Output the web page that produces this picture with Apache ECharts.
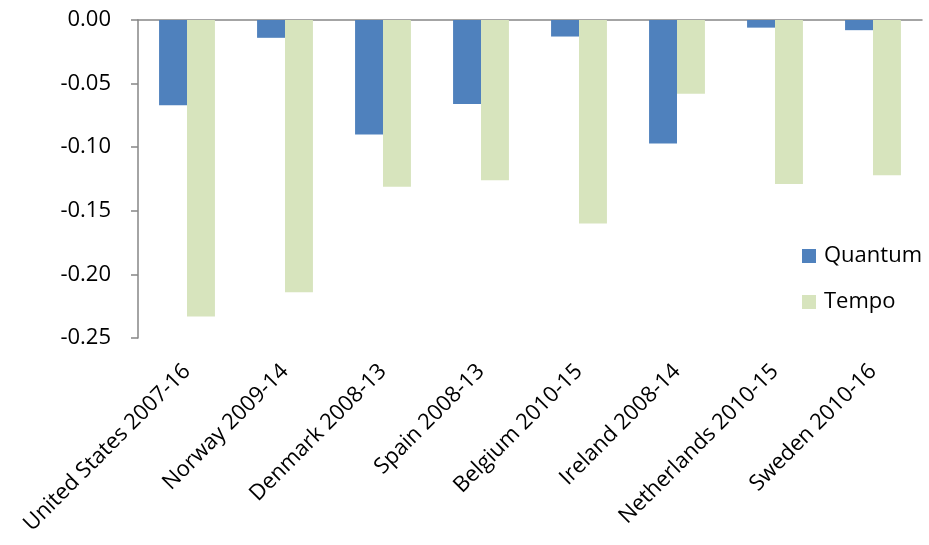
<!DOCTYPE html>
<html>
<head>
<meta charset="utf-8"/>
<script src="https://cdn.jsdelivr.net/npm/echarts@6/dist/echarts.min.js"></script>
</head>
<body style="margin:0;background:#fff;">
<div id="chart" style="width:929px;height:545px;"></div>
<script type="text/javascript">
var categories = ['United States 2007-16', 'Norway 2009-14', 'Denmark 2008-13', 'Spain 2008-13',
    'Belgium 2010-15', 'Ireland 2008-14', 'Netherlands 2010-15', 'Sweden 2010-16'];
var quantum = [-0.067, -0.014, -0.090, -0.066, -0.013, -0.097, -0.006, -0.008];
var tempo = [-0.233, -0.214, -0.131, -0.126, -0.160, -0.058, -0.129, -0.122];
var yTicks = ['0.00', '-0.05', '-0.10', '-0.15', '-0.20', '-0.25'];

var font = 'Open Sans';
var chart = echarts.init(document.getElementById('chart'));
var option = {
    animation: false,
    textStyle: { fontFamily: font },
    grid: { left: 138, right: 7, top: 20, bottom: 207 },
    legend: {
        orient: 'vertical',
        left: 802, top: 245,
        padding: 0,
        itemWidth: 14, itemHeight: 14,
        itemGap: 24,
        icon: 'rect',
        textStyle: { fontSize: 22, color: '#000', fontFamily: font, padding: [0, 0, 0, 3] },
        data: ['Quantum', 'Tempo']
    },
    xAxis: [{
        type: 'category',
        data: categories,
        position: 'bottom',
        axisLine: { show: false },
        axisTick: { show: false },
        axisLabel: { rotate: 45, fontSize: 22, color: '#000', margin: 30, interval: 0, fontFamily: font }
    }, {
        type: 'category',
        data: categories,
        position: 'top',
        axisLine: { lineStyle: { color: '#868686', width: 1.5 } },
        axisTick: { inside: true, length: 7, lineStyle: { color: '#868686', width: 1.5 } },
        axisLabel: { show: false }
    }],
    yAxis: {
        type: 'value',
        min: -0.25, max: 0, interval: 0.05,
        axisLine: { show: true, lineStyle: { color: '#868686', width: 1.5 } },
        axisTick: { show: true, length: 7, lineStyle: { color: '#868686', width: 1.5 } },
        splitLine: { show: false },
        axisLabel: {
            fontSize: 22, color: '#000', margin: 27, fontFamily: font,
            formatter: function (v) {
                var i = Math.round(-v / 0.05);
                return yTicks[i];
            }
        }
    },
    series: [{
        name: 'Quantum',
        type: 'bar',
        data: quantum,
        barGap: '0%',
        barCategoryGap: '43%',
        itemStyle: { color: '#4F81BD' }
    }, {
        name: 'Tempo',
        type: 'bar',
        data: tempo,
        barGap: '0%',
        barCategoryGap: '43%',
        itemStyle: { color: '#D7E4BD' }
    }]
};
chart.setOption(option);
</script>
</body>
</html>
